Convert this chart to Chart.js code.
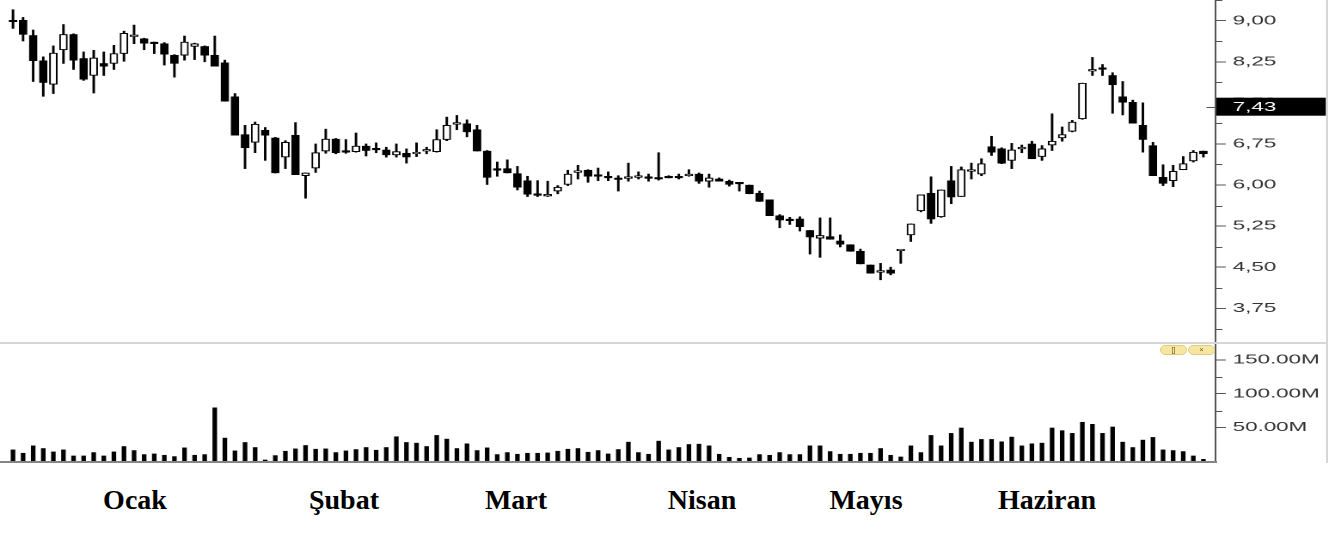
<!DOCTYPE html>
<html lang="tr">
<head>
<meta charset="utf-8">
<title>Fiyat ve hacim</title>
<script src="https://cdn.jsdelivr.net/npm/chart.js@4.4.1/dist/chart.umd.min.js"></script>
<style>
  html, body { margin: 0; padding: 0; background: #fff; }
  #sahne { position: relative; width: 1341px; height: 539px; overflow: hidden; background: #fff; }
  .tuval { position: absolute; left: 0; transform-origin: 0 0; }
  #grafikFiyat { top: 0; }
  #grafikHacim { top: 344px; }
  .cizgi { position: absolute; }
  .ay { position: absolute; top: 484px; line-height: 32px; font: bold 28px "Liberation Serif", "Times New Roman", serif; color: #000; transform: translateX(-50%); white-space: nowrap; }
  .dugme { position: absolute; top: 345px; width: 25px; height: 8px; background: #f6e6a2; border: 1px solid #e3cc78; border-radius: 5px; font: 7px/8px "Liberation Sans", Arial, sans-serif; color: #6a5a20; text-align: center; }
</style>
</head>
<body>
<div id="sahne">
  <canvas id="grafikFiyat" class="tuval" width="780" height="343"></canvas>
  <canvas id="grafikHacim" class="tuval" width="780" height="118"></canvas>
  <div class="cizgi" style="left:0;top:342px;width:1328px;height:2px;background:#d6d6d6"></div>
  <div class="cizgi" style="left:1326px;top:0;width:2px;height:463px;background:#d6d6d6"></div>
  <div class="cizgi" style="left:0;top:461px;width:1217px;height:2px;background:#858585"></div>
  <div class="dugme" style="left:1160px">[]</div>
  <div class="dugme" style="left:1188px">&times;</div>
</div>
<script>
  // gunluk mumlar (Ocak - Haziran)
  var acilis = [8.99, 9.01, 8.73, 8.27, 7.84, 8.47, 8.75, 8.31, 8.00, 8.22,
    8.22, 8.40, 8.71, 8.67, 8.59, 8.58, 8.37, 8.37, 8.53, 8.53,
    8.37, 8.23, 7.61, 6.92, 6.78, 7.00, 6.86, 6.51, 6.91, 6.17,
    6.31, 6.62, 6.84, 6.61, 6.61, 6.71, 6.65, 6.64, 6.55, 6.58,
    6.57, 6.62, 6.61, 6.83, 7.11, 7.12, 7.01, 6.62, 6.28, 6.30,
    6.21, 6.08, 5.82, 5.80, 5.89, 6.01, 6.23, 6.27, 6.17, 6.14,
    6.11, 6.12, 6.14, 6.13, 6.12, 6.16, 6.14, 6.17, 6.20, 6.07,
    6.11, 6.07, 6.03, 6.00, 5.85, 5.73, 5.44, 5.36, 5.38, 5.17,
    5.03, 5.06, 4.98, 4.91, 4.79, 4.54, 4.41, 4.45, 4.80, 5.09,
    5.53, 5.85, 5.42, 6.08, 5.79, 6.25, 6.20, 6.70, 6.66, 6.45,
    6.66, 6.75, 6.52, 6.73, 6.86, 6.98, 7.21, 8.08, 8.12, 8.00,
    7.61, 7.51, 7.09, 6.72, 6.14, 6.08, 6.28, 6.44, 6.62];
  var yuksek = [9.20, 9.06, 8.83, 8.34, 8.54, 8.93, 8.76, 8.43, 8.46, 8.43,
    8.55, 8.81, 8.92, 8.68, 8.61, 8.60, 8.38, 8.72, 8.59, 8.54,
    8.72, 8.28, 7.67, 7.09, 7.15, 7.05, 6.87, 6.81, 7.14, 6.22,
    6.75, 7.02, 6.85, 6.83, 6.95, 6.75, 6.77, 6.69, 6.75, 6.66,
    6.77, 6.69, 7.01, 7.24, 7.27, 7.19, 7.09, 6.63, 6.42, 6.46,
    6.34, 6.16, 6.08, 6.07, 5.99, 6.27, 6.36, 6.28, 6.31, 6.24,
    6.17, 6.40, 6.24, 6.20, 6.59, 6.17, 6.20, 6.28, 6.22, 6.20,
    6.13, 6.09, 6.05, 6.00, 5.89, 5.73, 5.46, 5.41, 5.42, 5.17,
    5.40, 5.40, 5.09, 4.91, 4.83, 4.54, 4.57, 4.50, 4.81, 5.29,
    5.82, 6.15, 5.91, 6.34, 6.33, 6.40, 6.48, 6.89, 6.68, 6.76,
    6.73, 6.80, 6.72, 7.30, 7.06, 7.18, 7.86, 8.33, 8.20, 8.05,
    7.89, 7.55, 7.50, 6.78, 6.37, 6.36, 6.52, 6.63, 6.62];
  var dusuk = [8.86, 8.63, 7.89, 7.62, 7.67, 8.22, 8.11, 7.91, 7.68, 8.00,
    8.11, 8.26, 8.58, 8.47, 8.40, 8.19, 7.97, 8.28, 8.29, 8.25,
    8.17, 7.53, 6.91, 6.30, 6.59, 6.45, 6.22, 6.30, 6.19, 5.76,
    6.23, 6.58, 6.57, 6.58, 6.60, 6.53, 6.59, 6.51, 6.51, 6.40,
    6.52, 6.57, 6.60, 6.81, 7.01, 6.88, 6.62, 6.01, 6.16, 6.22,
    5.91, 5.79, 5.79, 5.79, 5.84, 5.99, 6.11, 6.05, 6.08, 6.08,
    5.89, 6.07, 6.11, 6.07, 6.09, 6.13, 6.11, 6.16, 6.03, 5.96,
    6.07, 5.98, 5.89, 5.84, 5.70, 5.44, 5.22, 5.28, 5.16, 4.74,
    4.68, 5.01, 4.87, 4.79, 4.56, 4.39, 4.27, 4.36, 4.57, 4.97,
    5.51, 5.30, 5.41, 5.66, 5.79, 6.11, 6.17, 6.54, 6.39, 6.30,
    6.59, 6.48, 6.45, 6.63, 6.80, 6.97, 7.20, 8.00, 8.00, 7.31,
    7.28, 7.13, 6.60, 6.17, 5.99, 5.97, 6.28, 6.42, 6.51];
  var kapanis = [8.98, 8.75, 8.27, 7.87, 8.41, 8.75, 8.28, 7.93, 8.32, 8.17,
    8.40, 8.77, 8.72, 8.59, 8.58, 8.39, 8.22, 8.61, 8.58, 8.37,
    8.17, 7.53, 6.91, 6.68, 7.11, 6.91, 6.22, 6.78, 6.19, 6.22,
    6.59, 6.84, 6.59, 6.60, 6.71, 6.63, 6.64, 6.55, 6.61, 6.51,
    6.58, 6.64, 6.83, 7.09, 7.12, 6.97, 6.62, 6.14, 6.27, 6.22,
    5.96, 5.83, 5.81, 5.81, 5.96, 6.20, 6.24, 6.16, 6.16, 6.13,
    6.10, 6.13, 6.15, 6.12, 6.11, 6.13, 6.13, 6.18, 6.07, 6.13,
    6.07, 6.01, 6.02, 5.84, 5.70, 5.44, 5.36, 5.35, 5.24, 5.05,
    5.08, 5.01, 4.92, 4.79, 4.56, 4.39, 4.42, 4.39, 4.81, 5.29,
    5.82, 5.38, 5.91, 5.78, 6.28, 6.27, 6.39, 6.60, 6.40, 6.64,
    6.67, 6.48, 6.66, 6.80, 6.92, 7.15, 7.86, 8.09, 8.11, 7.83,
    7.51, 7.13, 6.83, 6.17, 6.03, 6.25, 6.39, 6.60, 6.57];
  // milyon adet
  var hacim = [16.5, 11.5, 22.5, 18.5, 13.5, 16.5, 7.5, 7.5, 12.5, 7.5,
    13.5, 21.5, 15.5, 9.5, 10.5, 8.5, 6.5, 19.5, 8.5, 9.5,
    79, 34, 15, 27.5, 20, 1.5, 8, 14.5, 18, 23,
    17.5, 18, 12.5, 15, 17, 20, 16, 20, 36, 27.5,
    26.5, 21.5, 38, 32.5, 18.5, 25.5, 15.5, 19.5, 9.5, 12.5,
    10, 11.5, 11.5, 12, 14.5, 17.5, 18.5, 13, 15.5, 10.5,
    17, 28, 12.5, 10, 29.5, 16.5, 20, 24.5, 25, 22.5,
    10, 5.5, 4, 4.5, 9.5, 8.5, 12.5, 9.5, 9.5, 22.5,
    22.5, 14, 10, 10, 11.5, 11.5, 18.5, 8.5, 6, 22.5,
    12.5, 38, 22.5, 41, 49, 28, 32, 32, 28.5, 35.5,
    22.5, 25.5, 26.5, 49, 45, 41, 57.5, 54.5, 41, 50.5,
    28, 20, 31, 35, 16.5, 15.5, 14, 7.5, 2.5];

  var aylar = ["Ocak", "Şubat", "Mart", "Nisan", "Mayıs", "Haziran"];
  var fiyatEtiket = [9.00, 8.25, 7.50, 6.75, 6.00, 5.25, 4.50, 3.75];
  var fiyatAra = [9.375, 8.625, 7.875, 7.125, 6.375, 5.625, 4.875, 4.125, 3.375];
  var hacimEtiket = [150, 100, 50];
  var hacimAra = [125, 75];
  var sonFiyat = 7.43;

  // yerlesim
  var ayKonum = [135, 344, 516, 702, 866, 1047];
  var GERME = 1341 / 780;
  var EKSEN_GEN = 73;
  var yaziTipi = { family: '"Liberation Sans", Arial, sans-serif', size: 13 };

  var sahne = document.getElementById("sahne");
  aylar.forEach(function(ad, i) {
    var d = document.createElement("div");
    d.className = "ay";
    d.style.left = ayKonum[i] + "px";
    d.textContent = ad;
    sahne.appendChild(d);
  });

  document.querySelectorAll(".tuval").forEach(function(c) {
    c.style.transform = "scaleX(" + GERME + ")";
  });

  var sira = kapanis.map(function(v, i) { return i; });

  function araCentikler(degerler) {
    return {
      id: "araCentik",
      afterDraw: function(chart) {
        var ctx = chart.ctx, s = chart.scales.y;
        ctx.save();
        ctx.strokeStyle = "#555";
        ctx.lineWidth = 1;
        degerler.forEach(function(v) {
          var py = Math.round(s.getPixelForValue(v)) + 0.5;
          ctx.beginPath();
          ctx.moveTo(s.left, py);
          ctx.lineTo(s.left + 4, py);
          ctx.stroke();
        });
        ctx.restore();
      }
    };
  }

  var sonFiyatKutu = {
    id: "sonFiyat",
    afterDraw: function(chart) {
      var ctx = chart.ctx, s = chart.scales.y;
      var py = s.getPixelForValue(sonFiyat);
      ctx.save();
      ctx.fillStyle = "#000";
      ctx.fillRect(s.left + 0.5, py - 9, 770.7 - s.left, 18);
      ctx.fillStyle = "#fff";
      ctx.font = '13px "Liberation Sans", Arial, sans-serif';
      ctx.textAlign = "left";
      ctx.textBaseline = "middle";
      ctx.fillText(sonFiyat.toFixed(2).replace(".", ","), s.left + 10, py + 0.5);
      ctx.strokeStyle = "#555";
      ctx.lineWidth = 1;
      ctx.beginPath();
      ctx.moveTo(s.left - 5.3, Math.round(py) + 0.5);
      ctx.lineTo(s.left, Math.round(py) + 0.5);
      ctx.stroke();
      ctx.restore();
    }
  };

  function sagEksen(min, max, etiketler, yazi) {
    return {
      type: "linear",
      position: "right",
      min: min,
      max: max,
      afterBuildTicks: function(s) {
        s.ticks = etiketler.map(function(v) { return { value: v }; });
      },
      afterFit: function(s) {
        s.width = EKSEN_GEN;
        s.paddingTop = 0;
        s.paddingBottom = 0;
      },
      grid: { drawOnChartArea: false, drawTicks: true, tickLength: 6, tickColor: "#555", tickWidth: 1 },
      border: { display: true, color: "#555", width: 1 },
      ticks: { autoSkip: false, padding: 4, color: "#333", font: yaziTipi, callback: yazi }
    };
  }

  var xEksen = { type: "linear", display: false, offset: false, min: -1.288, max: 119.2 };

  new Chart(document.getElementById("grafikFiyat").getContext("2d"), {
    type: "bar",
    data: {
      datasets: [{
        label: "fitil",
        data: sira.map(function(i) { return { x: i, y: [dusuk[i], yuksek[i]] }; }),
        backgroundColor: "#000",
        barThickness: 0.8,
        grouped: false,
        order: 2
      }, {
        label: "govde",
        data: sira.map(function(i) { return { x: i, y: [acilis[i], kapanis[i]] }; }),
        backgroundColor: sira.map(function(i) { return kapanis[i] > acilis[i] ? "#fff" : "#000"; }),
        borderColor: "#000",
        borderWidth: 1,
        borderSkipped: false,
        barThickness: 4.3,
        minBarLength: 1.6,
        grouped: false,
        order: 1
      }]
    },
    options: {
      responsive: false,
      animation: false,
      devicePixelRatio: 2,
      events: [],
      layout: { padding: 0 },
      plugins: { legend: { display: false }, tooltip: { enabled: false } },
      scales: {
        x: xEksen,
        y: sagEksen(3.116, 9.378, fiyatEtiket, function(v) { return v.toFixed(2).replace(".", ","); })
      }
    },
    plugins: [araCentikler(fiyatAra), sonFiyatKutu]
  });

  new Chart(document.getElementById("grafikHacim").getContext("2d"), {
    type: "bar",
    data: {
      datasets: [{
        label: "Hacim",
        data: sira.map(function(i) { return { x: i, y: hacim[i] }; }),
        backgroundColor: "#000",
        barThickness: 2,
        grouped: false
      }]
    },
    options: {
      responsive: false,
      animation: false,
      devicePixelRatio: 2,
      events: [],
      layout: { padding: { bottom: 1 } },
      plugins: { legend: { display: false }, tooltip: { enabled: false } },
      scales: {
        x: xEksen,
        y: sagEksen(0, 173.8, hacimEtiket, function(v) { return v.toFixed(2) + "M"; })
      }
    },
    plugins: [araCentikler(hacimAra)]
  });
</script>
</body>
</html>
